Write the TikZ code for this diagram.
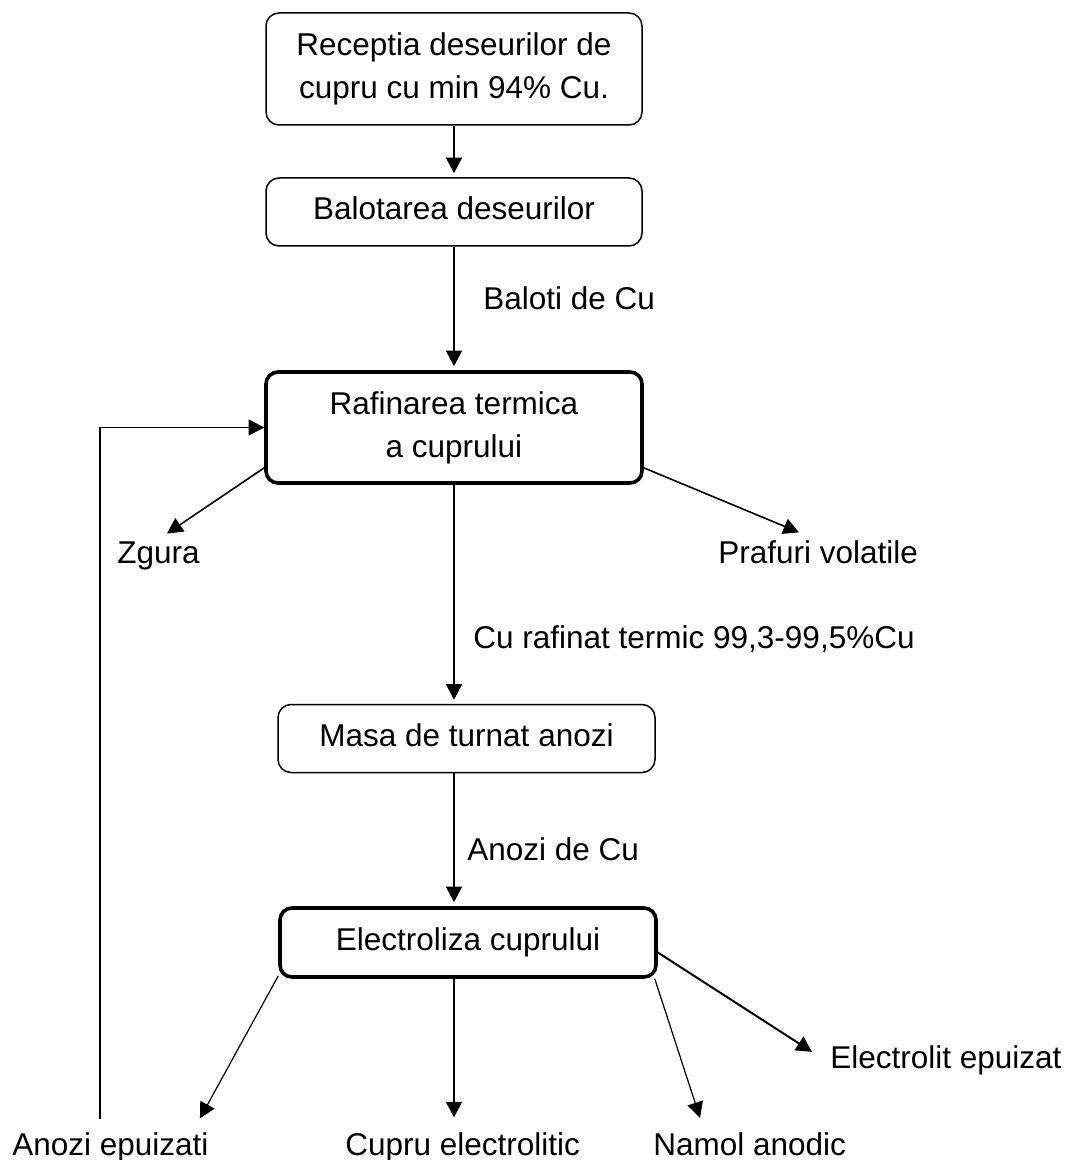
\documentclass[tikz,border=0pt]{standalone}
\usepackage{fontspec}
\setmainfont{Liberation Sans}
\usetikzlibrary{arrows.meta}
\newcommand{\flowfont}{\fontsize{15.75}{21.5}\selectfont}
\tikzset{
  >={Triangle[length=7.8pt,width=8pt]}, % plain filled triangle heads
  box/.style={draw=black,line width=0.75pt,rounded corners=6.5pt,minimum width=188pt,inner sep=0pt,align=center,font=\flowfont},
  box single/.style={box,minimum height=34pt,text height=11.3pt,text depth=3.3pt},
  box bold/.style={line width=1.8pt,rounded corners=6pt},
  note/.style={inner sep=0pt,font=\flowfont},
  flow/.style={->,line width=0.8pt},
  flow thin/.style={flow,line width=0.6pt},
  flow into/.style={flow,shorten >=2pt}
}

\begin{document}
\begin{tikzpicture}[x=0.5pt,y=-0.5pt]
    \useasboundingbox (0,0) rectangle (1068,1160);
    % process steps
    \node[box,minimum height=56pt] (rec) at (454,69) {Receptia deseurilor de\\cupru cu min 94\% Cu.};
    \node[box single] (bal) at (454,212) {Balotarea deseurilor};
    \node[box,box bold,minimum height=55.5pt] (rafin) at (454,427.5) {Rafinarea termica\\a cuprului};
    \node[box single,minimum width=188.5pt] (masa) at (466.5,738.5) {Masa de turnat anozi};
    \node[box single,box bold,minimum height=34.5pt] (elec) at (468,942.5) {Electroliza cuprului};
    % texts
    \node[note,anchor=base west] (baloti) at (483,309) {Baloti de Cu};
    \node[note,anchor=base] (zgura) at (158.5,563) {Zgura};
    \node[note,anchor=base west] (praf) at (718,563) {Prafuri volatile};
    \node[note,anchor=base west] (curaf) at (473,648) {Cu rafinat termic 99,3-99,5\%Cu};
    \node[note,anchor=base west] (anozicu) at (467,860) {Anozi de Cu};
    \node[note,anchor=base west] (anozi) at (12,1155) {Anozi epuizati};
    \node[note,anchor=base west] (cupru) at (345,1155) {Cupru electrolitic};
    \node[note,anchor=base west] (namol) at (653,1155) {Namol anodic};
    \node[note,anchor=base west] (elyt) at (830,1068) {Electrolit epuizat};
    % arrow ends above the texts
    \coordinate (zgura tip) at ([xshift=4.25pt,yshift=3.7pt]zgura.north);
    \coordinate (praf tip) at ([xshift=40.5pt,yshift=3.7pt]praf.north west);
    \coordinate (anozi tip) at ([xshift=-4.5pt,yshift=6.7pt]anozi.north east);
    \coordinate (cupru tip) at ([xshift=54.5pt,yshift=7.2pt]cupru.north west);
    \coordinate (namol tip) at ([xshift=23.5pt,yshift=7pt]namol.north west);
    \coordinate (elyt tip) at ([xshift=-9pt,yshift=4pt]elyt.west);
    \coordinate (loop) at ([xshift=44pt,yshift=6.2pt]anozi.north west);
    % main line
    \draw[flow into] (rec.south) -- (bal.north);
    \draw[flow into] (bal.south) -- (rafin.north);
    \draw[flow into] (rafin.south) -- (rafin.south |- masa.north);
    \draw[flow into] (rafin.south |- masa.south) -- (rafin.south |- elec.north);
    % by-products
    \draw[flow] (rafin.192) -- (zgura tip);
    \draw[flow] (rafin.-12.6) -- (praf tip);
    \draw[flow thin] (elec.190.7) -- (anozi tip);
    \draw[flow,line width=1pt] (elec.south -| cupru tip) -- (cupru tip);
    \draw[flow thin] (elec.-11.1) -- (namol tip);
    \draw[flow,line width=1pt] (elec.-3) -- (elyt tip);
    % spent anodes back to refining
    \draw[flow] (loop) |- (rafin.west);
\end{tikzpicture}
\end{document}
